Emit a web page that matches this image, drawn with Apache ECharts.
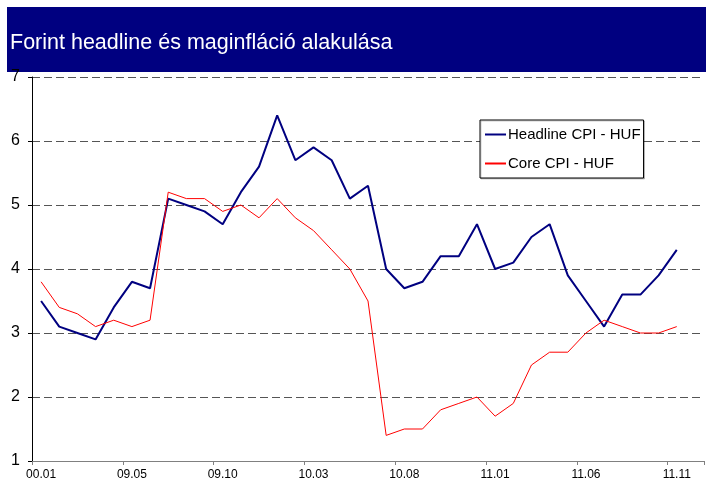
<!DOCTYPE html>
<html>
<head>
    <meta charset="UTF-8">
    <title>Forint headline és maginfláció</title>
    <style>
        html, body {
            height: 100%;
            width: 100%;
            margin: 0;
            padding: 0;
            background: #fff;
        }
    </style>
    <script src="https://cdn.jsdelivr.net/npm/echarts@6/dist/echarts.min.js"></script>
</head>
<body>
<div id="main" style="width: 706px; height: 488px;"></div>
<script type="text/javascript">
    // x tengely: havi kategóriák (csak minden ötödik címke látszik)
    var months = ['00.01', '09.01', '09.02', '09.03', '09.04', '09.05', '09.06', '09.07', '09.08',
        '09.09', '09.10', '09.11', '09.12', '10.01', '10.02', '10.03', '10.04', '10.05', '10.06',
        '10.07', '10.08', '10.09', '10.10', '10.11', '10.12', '11.01', '11.02', '11.03', '11.04',
        '11.05', '11.06', '11.07', '11.08', '11.09', '11.10', '11.11', '11.12'];
    // Headline CPI
    var headline = [3.5, 3.1, 3.0, 2.9, 3.4, 3.8, 3.7, 5.1, 5.0, 4.9, 4.7, 5.2, 5.6, 6.4, 5.7, 5.9,
        5.7, 5.1, 5.3, 4.0, 3.7, 3.8, 4.2, 4.2, 4.7, 4.0, 4.1, 4.5, 4.7, 3.9, 3.5, 3.1, 3.6, 3.6,
        3.9, 4.3, null];
    // Core CPI
    var core = [3.8, 3.4, 3.3, 3.1, 3.2, 3.1, 3.2, 5.2, 5.1, 5.1, 4.9, 5.0, 4.8, 5.1, 4.8, 4.6,
        4.3, 4.0, 3.5, 1.4, 1.5, 1.5, 1.8, 1.9, 2.0, 1.7, 1.9, 2.5, 2.7, 2.7, 3.0, 3.2, 3.1, 3.0,
        3.0, 3.1, null];
    var legendNames = ['Headline CPI - HUF', 'Core CPI - HUF'];
    var title = 'Forint headline és maginfláció alakulása';

    var myChart = echarts.init(document.getElementById('main'));
    var option = {
        animation: false,
        textStyle: {fontFamily: 'Liberation Sans, Arial, sans-serif'},
        graphic: [{
            type: 'rect',
            shape: {x: 7, y: 7, width: 699, height: 65},
            style: {fill: '#000080'}
        }, {
            type: 'text',
            left: 10,
            top: 32,
            style: {
                text: title,
                fill: '#fff',
                font: '21.5px "Liberation Sans", Arial, sans-serif'
            }
        }],
        legend: {
            left: 480,
            top: 120,
            orient: 'vertical',
            padding: [7, 3, 7, 4],
            itemGap: 14,
            itemWidth: 21,
            itemHeight: 14,
            backgroundColor: '#fff',
            borderColor: '#000',
            borderWidth: 1,
            shadowColor: 'rgba(0,0,0,0.2)',
            shadowOffsetX: 1,
            shadowOffsetY: 1,
            itemStyle: {opacity: 0, borderWidth: 0},
            textStyle: {color: '#000', fontSize: 15, padding: [0, 0, 0, -3]},
            data: legendNames
        },
        grid: {
            left: 32,
            right: 2,
            top: 77,
            bottom: 27,
            containLabel: false
        },
        xAxis: {
            type: 'category',
            data: months,
            boundaryGap: true,
            axisLine: {lineStyle: {color: '#808080', width: 1}},
            axisTick: {show: true, interval: 4, length: 4, lineStyle: {color: '#808080'}},
            axisLabel: {interval: 4, color: '#000', fontSize: 12, margin: 8}
        },
        yAxis: {
            type: 'value',
            min: 1,
            max: 7,
            interval: 1,
            axisLine: {show: true, lineStyle: {color: '#000', width: 1}},
            axisTick: {show: true, length: 4, lineStyle: {color: '#000'}},
            axisLabel: {color: '#000', fontSize: 16, margin: 12},
            splitLine: {
                show: true,
                lineStyle: {color: '#555', type: [8, 4], width: 1}
            }
        },
        series: [{
            name: legendNames[0],
            type: 'line',
            data: headline,
            symbol: 'none',
            color: '#000080',
            lineStyle: {width: 2, color: '#000080'}
        }, {
            name: legendNames[1],
            type: 'line',
            data: core,
            symbol: 'none',
            color: '#ff0000',
            lineStyle: {width: 1, color: '#ff0000'}
        }]
    };
    myChart.setOption(option);
</script>
</body>
</html>
